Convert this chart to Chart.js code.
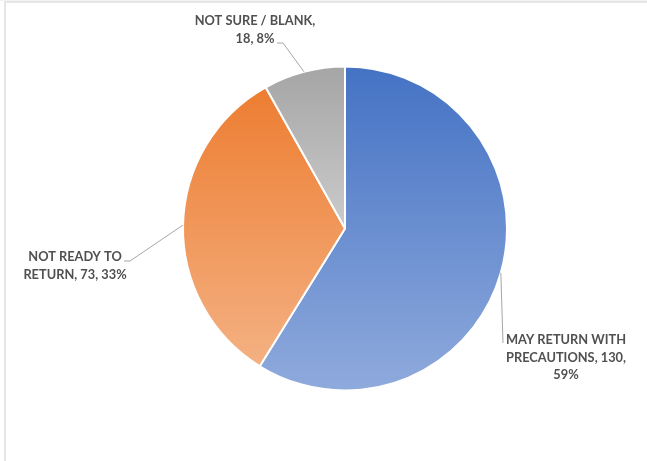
<!DOCTYPE html>
<html>
<head>
<meta charset="utf-8">
<script src="https://cdn.jsdelivr.net/npm/chart.js@4.4.1/dist/chart.umd.min.js"></script>
<style>
    html, body { margin: 0; padding: 0; background: #fff; }
    #wrap { position: relative; width: 647px; height: 461px; overflow: hidden; }
    #frame { position: absolute; left: 4px; top: 1px; width: 643px; height: 460px;
             border-top: 2px solid #e6e6e6; border-left: 2px solid #e6e6e6; box-sizing: border-box; }
    #topstrip { position: absolute; left: 0; top: 0; width: 647px; height: 1px; background: #f2f2f2; }
    canvas { position: absolute; left: 0; top: 0; }
</style>
</head>
<body>
<div id="wrap">
    <div id="topstrip"></div>
    <div id="frame"></div>
    <canvas id="pieChart" width="647" height="461"></canvas>
</div>
<script>
const categories = ['May return with precautions', 'Not ready to return', 'Not sure / blank'];
const counts = [130, 73, 18];
const percents = [59, 33, 8];

// top / bottom colours of each slice gradient
const topColors = ['#4472C4', '#ED7D31', '#A5A5A5'];
const bottomColors = ['#8FAADC', '#F4B183', '#CBCBCB'];

// label placement: text block centre, first line y, leader end, optional elbow
const labelLayout = [
    { cx: 566, y: 340, maxW: 128, end: [503, 343], elbow: null },
    { cx: 75, y: 257, maxW: 112, end: [124, 261], elbow: [130, 261] },
    { cx: 255, y: 21, maxW: 124, end: [277, 43], elbow: [283, 43] }
];

const FONT = 'bold 12.8px Lato, "Open Sans", sans-serif';
const LINE_H = 17.5;

function sliceGradient(context) {
    const chart = context.chart;
    const area = chart.chartArea;
    const i = context.dataIndex;
    if (!area) return topColors[i];
    const cx = (area.left + area.right) / 2;
    const cy = (area.top + area.bottom) / 2;
    const r = Math.min(area.right - area.left, area.bottom - area.top) / 2;
    const total = counts.reduce((a, b) => a + b, 0);
    let before = 0;
    for (let k = 0; k < i; k++) before += counts[k];
    const a0 = -Math.PI / 2 + before / total * Math.PI * 2;
    const a1 = a0 + counts[i] / total * Math.PI * 2;
    let ymin = cy, ymax = cy;
    for (let s = 0; s <= 60; s++) {
        const a = a0 + (a1 - a0) * s / 60;
        const y = cy + Math.sin(a) * r;
        ymin = Math.min(ymin, y);
        ymax = Math.max(ymax, y);
    }
    const g = chart.ctx.createLinearGradient(0, ymin, 0, ymax);
    g.addColorStop(0, topColors[i]);
    g.addColorStop(1, bottomColors[i]);
    return g;
}

function wrapText(ctx, text, maxW) {
    const words = text.split(' ');
    const lines = [];
    let cur = '';
    words.forEach(w => {
        const test = cur ? cur + ' ' + w : w;
        if (ctx.measureText(test).width > maxW && cur) {
            lines.push(cur);
            cur = w;
        } else {
            cur = test;
        }
    });
    if (cur) lines.push(cur);
    return lines;
}

const pieLabels = {
    id: 'pieLabels',
    afterDatasetsDraw(chart) {
        const ctx = chart.ctx;
        const meta = chart.getDatasetMeta(0);
        ctx.save();
        meta.data.forEach((arc, i) => {
            const p = arc.getProps(['x', 'y', 'startAngle', 'endAngle', 'outerRadius'], true);
            const mid = (p.startAngle + p.endAngle) / 2;
            const ax = p.x + Math.cos(mid) * p.outerRadius;
            const ay = p.y + Math.sin(mid) * p.outerRadius;
            const lay = labelLayout[i];

            ctx.strokeStyle = '#a6a6a6';
            ctx.lineWidth = 1;
            ctx.beginPath();
            ctx.moveTo(ax, ay);
            if (lay.elbow) ctx.lineTo(lay.elbow[0], lay.elbow[1]);
            ctx.lineTo(lay.end[0], lay.end[1]);
            ctx.stroke();

            ctx.font = FONT;
            ctx.fillStyle = '#505050';
            ctx.textAlign = 'center';
            ctx.textBaseline = 'middle';
            const text = (categories[i] + ', ' + counts[i] + ', ' + percents[i] + '%').toUpperCase();
            wrapText(ctx, text, lay.maxW).forEach((line, n) => {
                ctx.fillText(line, lay.cx, lay.y + n * LINE_H);
            });
        });
        ctx.restore();
    }
};

new Chart(document.getElementById('pieChart'), {
    type: 'pie',
    data: {
        labels: categories,
        datasets: [{
            data: counts,
            backgroundColor: sliceGradient,
            borderColor: '#ffffff',
            borderWidth: 2
        }]
    },
    options: {
        responsive: false,
        animation: false,
        layout: { padding: { left: 182, right: 139, top: 65, bottom: 69 } },
        plugins: {
            legend: { display: false },
            tooltip: { enabled: false }
        }
    },
    plugins: [pieLabels]
});
</script>
</body>
</html>
